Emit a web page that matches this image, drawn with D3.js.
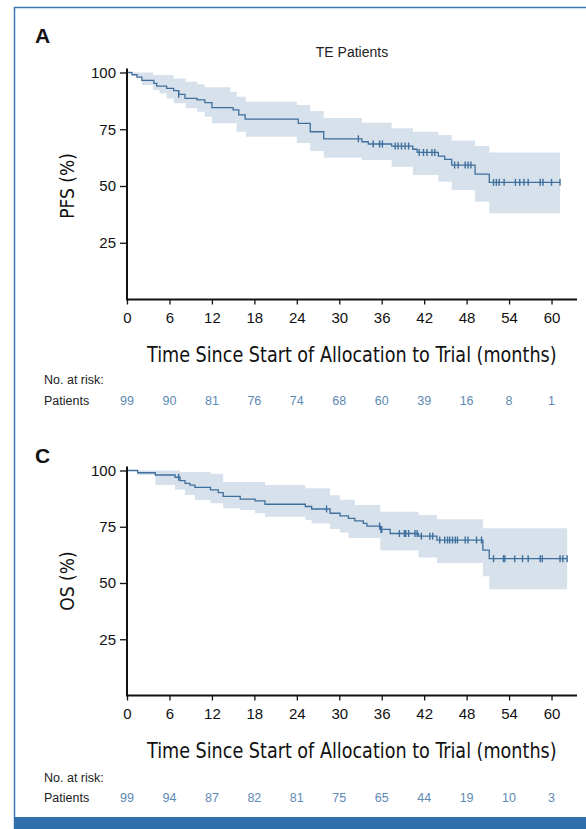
<!DOCTYPE html>
<html>
<head>
<meta charset="utf-8">
<script src="https://cdn.jsdelivr.net/npm/d3@7"></script>
<style>
  html, body { margin: 0; padding: 0; background: #fff; }
  svg { display: block; }
  text { font-family: "Liberation Sans", Arial, sans-serif; }
  .narrow { font-family: "Liberation Sans Narrow", "DejaVu Sans Condensed", "Liberation Sans", sans-serif; }
</style>
</head>
<body>
<script>
// ---- Shared axis / risk table values ----
const xTicks = [0, 6, 12, 18, 24, 30, 36, 42, 48, 54, 60];
const yTicks = [25, 50, 75, 100];
const xTitle = "Time Since Start of Allocation to Trial (months)";

// ---- Panel A: progression-free survival ----
const pfsTimes = [0, 0.7, 1.4, 2.1, 3.8, 4.2, 5.6, 6.6, 7.3, 8.2, 9.9, 11.0, 12.0, 15.0, 15.8, 16.7, 24.2, 25.9, 27.8, 33.2, 34.1, 37.4, 40.4, 41.0, 44.0, 44.9, 45.9, 49.2, 51.2];
const pfsSurv  = [100, 99, 98, 96.5, 95.2, 94, 93, 92, 90.4, 88.6, 87.9, 86.7, 84.5, 83.5, 81.3, 79.5, 77.6, 73.9, 70.8, 69.5, 68.5, 67.6, 66.2, 64.8, 63.2, 61.7, 59.2, 55.2, 51.6];
const pfsEnd = 61.2;
const pfsCensor = [7.3, 32.7, 34.8, 35.7, 36.1, 37.9, 38.3, 38.8, 39.3, 39.8, 41.3, 41.9, 42.4, 43.1, 43.5, 46.3, 46.8, 47.8, 48.2, 48.6, 51.8, 52.2, 52.6, 53.3, 54.9, 55.5, 56.1, 56.7, 58.4, 58.8, 60.0, 61.2];
const pfsBandTimes = [0, 0.7, 1.4, 2.1, 3.7, 4.6, 5.6, 6.6, 8.3, 9.9, 11.0, 12.0, 14.6, 15.5, 16.8, 24.0, 25.9, 27.8, 33.2, 37.4, 40.4, 44.0, 45.9, 49.2, 51.2];
const pfsUpper = [100, 100, 100, 100, 98.9, 98.9, 98.9, 97.4, 95.9, 94.8, 93.5, 93.5, 91.5, 89.3, 87.1, 85.7, 83.0, 80.0, 77.9, 75.4, 73.9, 72.5, 70.0, 67.6, 64.8];
const pfsLower = [100, 99.0, 97.6, 94.5, 92.3, 90.8, 88.6, 86.4, 84.2, 82.7, 80.5, 77.6, 77.6, 73.9, 71.7, 68.9, 65.4, 62.5, 61.5, 58.5, 54.8, 51.9, 48.2, 43.1, 38.0];
const pfsAtRisk = [99, 90, 81, 76, 74, 68, 60, 39, 16, 8, 1];

// ---- Panel C: overall survival ----
const osTimes = [0, 1.5, 4.0, 6.8, 7.5, 8.2, 8.9, 9.6, 11.8, 12.9, 13.6, 16.0, 18.1, 19.5, 25.2, 26.1, 28.7, 30.1, 31.3, 32.2, 33.4, 33.9, 35.8, 37.2, 41.2, 43.8, 50.3, 51.2];
const osSurv  = [100, 99, 98, 97, 95.5, 94.3, 93.5, 92.5, 91.4, 90.2, 88.5, 87.3, 86.5, 85.0, 84.0, 82.9, 81.0, 79.8, 78.7, 77.6, 76.5, 75.3, 73.8, 72.0, 70.8, 69.1, 64.6, 60.8];
const osEnd = 62.2;
const osCensor = [7.3, 28.2, 35.7, 35.9, 36.0, 38.5, 39.2, 39.4, 39.8, 40.7, 41.0, 41.6, 42.8, 43.2, 44.2, 44.9, 45.3, 45.6, 46.0, 46.4, 46.7, 47.8, 48.2, 49.4, 50.1, 51.8, 53.2, 53.4, 54.8, 55.9, 56.7, 58.4, 58.7, 61.2, 61.6, 62.2];
const osBandTimes = [0, 1.5, 4.0, 6.8, 7.5, 8.2, 9.6, 11.8, 13.6, 16.0, 18.1, 19.5, 25.2, 26.1, 28.7, 30.1, 31.3, 32.2, 35.8, 41.2, 43.8, 50.3, 51.2];
const osUpper = [100, 100, 100, 100, 99.3, 99.3, 99.3, 98.6, 94.9, 94.9, 94.9, 93.6, 92.1, 92.1, 89.0, 87.0, 87.0, 84.7, 81.7, 80.2, 78.3, 74.3, 74.3];
const osLower = [100, 98.0, 93.6, 91.4, 91.4, 89.1, 86.9, 85.4, 83.2, 82.5, 81.0, 79.5, 78.0, 76.5, 74.0, 72.5, 70.0, 70.0, 64.6, 61.3, 58.9, 53.0, 47.2];
const osAtRisk = [99, 94, 87, 82, 81, 75, 65, 44, 19, 10, 3];

// ---- Colours ----
const lineColor = "#3f6f9c";
const bandColor = "#d6e1ec";
const riskColor = "#5d89b3";
const frameColor = "#3b77b2";

const W = 586, H = 829;
const svg = d3.select("body").append("svg").attr("width", W).attr("height", H);

// page frame: thin left and top rules, solid bar along the bottom
svg.append("line").attr("x1", 14.5).attr("x2", 14.5).attr("y1", 7).attr("y2", H)
  .attr("stroke", frameColor).attr("stroke-width", 1.5);
svg.append("line").attr("x1", 14).attr("x2", W).attr("y1", 7.5).attr("y2", 7.5)
  .attr("stroke", frameColor).attr("stroke-width", 1.5);
svg.append("rect").attr("x", 14).attr("y", 817).attr("width", W - 14).attr("height", H - 817)
  .attr("fill", "#2f6fab");

const x = d3.scaleLinear().domain([0, 63.6]).range([127, 577]);

function panel(opts) {
  const g = svg.append("g");
  const y = d3.scaleLinear().domain([0, 100]).range([opts.y0, opts.y100]);

  // panel letter
  g.append("text").attr("x", 35).attr("y", opts.letterY)
    .attr("font-size", 21).attr("font-weight", "bold").attr("fill", "#111")
    .text(opts.letter);

  if (opts.title) {
    g.append("text").attr("x", 352).attr("y", opts.titleY).attr("text-anchor", "middle")
      .attr("font-size", 14).attr("fill", "#222").text(opts.title);
  }

  // confidence band
  const band = opts.bandTimes.map((t, i) => ({t, lo: opts.lower[i], hi: opts.upper[i]}));
  band.push({t: opts.end, lo: opts.lower[opts.lower.length - 1], hi: opts.upper[opts.upper.length - 1]});
  g.append("path").datum(band)
    .attr("fill", bandColor)
    .attr("d", d3.area().curve(d3.curveStepAfter)
      .x(d => x(d.t)).y0(d => y(d.lo)).y1(d => y(d.hi)));

  // Kaplan-Meier step curve
  const pts = opts.times.map((t, i) => ({t, s: opts.surv[i]}));
  pts.push({t: opts.end, s: opts.surv[opts.surv.length - 1]});
  g.append("path").datum(pts)
    .attr("fill", "none").attr("stroke", lineColor).attr("stroke-width", 1.3)
    .attr("d", d3.line().curve(d3.curveStepAfter).x(d => x(d.t)).y(d => y(d.s)));

  // censor marks, placed on the curve value at each time
  const survAt = t => {
    let s = opts.surv[0];
    for (let i = 0; i < opts.times.length; i++) if (opts.times[i] <= t) s = opts.surv[i];
    return s;
  };
  g.selectAll(null).data(opts.censor).join("line")
    .attr("x1", d => x(d)).attr("x2", d => x(d))
    .attr("y1", d => y(survAt(d)) - 3.5).attr("y2", d => y(survAt(d)) + 3.5)
    .attr("stroke", lineColor).attr("stroke-width", 1.4);

  // y axis
  const ya = g.append("g").attr("transform", `translate(${x(0)},0)`)
    .call(d3.axisLeft(y).tickValues(yTicks).tickSize(7).tickPadding(4));
  ya.select(".domain").remove();
  ya.selectAll("text").attr("font-size", 15).attr("fill", "#111")
    .attr("font-family", "'Liberation Sans', Arial, sans-serif");
  ya.selectAll("line").attr("stroke", "#111").attr("stroke-width", 1.3);
  g.append("line").attr("x1", x(0)).attr("x2", x(0)).attr("y1", y(101.8)).attr("y2", y(0))
    .attr("stroke", "#111").attr("stroke-width", 2);

  // x axis
  const xa = g.append("g").attr("transform", `translate(0,${y(0)})`)
    .call(d3.axisBottom(x).tickValues(xTicks).tickSize(5).tickPadding(8));
  xa.select(".domain").remove();
  xa.selectAll("text").attr("font-size", 15).attr("fill", "#111")
    .attr("font-family", "'Liberation Sans', Arial, sans-serif");
  xa.selectAll("line").attr("stroke", "#111").attr("stroke-width", 1.3);
  g.append("line").attr("x1", x(0) - 1).attr("x2", x(63.6)).attr("y1", y(0)).attr("y2", y(0))
    .attr("stroke", "#111").attr("stroke-width", 2);

  // y axis title
  g.append("text").attr("class", "narrow")
    .attr("transform", `translate(74,${opts.yTitleY}) rotate(-90)`)
    .attr("text-anchor", "middle").attr("font-size", 19).attr("fill", "#111")
    .text(opts.yTitle);

  // x axis title, condensed horizontally to span the tick range
  const xt = g.append("text").attr("class", "narrow")
    .attr("font-size", 22).attr("fill", "#111")
    .text(xTitle);
  const natural = xt.node().getComputedTextLength();
  const sx = Math.min(1, 410 / natural);
  xt.attr("transform", `translate(147,${opts.xTitleY}) scale(${sx},1)`);

  // number at risk table
  g.append("text").attr("x", 44).attr("y", opts.riskHeadY)
    .attr("font-size", 12.5).attr("fill", "#222").text("No. at risk:");
  g.append("text").attr("x", 44).attr("y", opts.riskRowY)
    .attr("font-size", 12.5).attr("fill", "#222").text("Patients");
  g.selectAll(null).data(opts.atRisk).join("text")
    .attr("x", (d, i) => x(xTicks[i])).attr("y", opts.riskRowY)
    .attr("text-anchor", "middle").attr("font-size", 12.5).attr("fill", riskColor)
    .text(d => d);
}

panel({
  letter: "A", letterY: 43, title: "TE Patients", titleY: 57,
  y0: 299.5, y100: 72.5,
  times: pfsTimes, surv: pfsSurv, end: pfsEnd, censor: pfsCensor,
  bandTimes: pfsBandTimes, upper: pfsUpper, lower: pfsLower,
  yTitle: "PFS (%)", yTitleY: 186,
  xTitleY: 362, riskHeadY: 384, riskRowY: 405, atRisk: pfsAtRisk
});

panel({
  letter: "C", letterY: 463,
  y0: 695.5, y100: 470.5,
  times: osTimes, surv: osSurv, end: osEnd, censor: osCensor,
  bandTimes: osBandTimes, upper: osUpper, lower: osLower,
  yTitle: "OS (%)", yTitleY: 581,
  xTitleY: 758, riskHeadY: 782, riskRowY: 802, atRisk: osAtRisk
});
</script>
</body>
</html>
